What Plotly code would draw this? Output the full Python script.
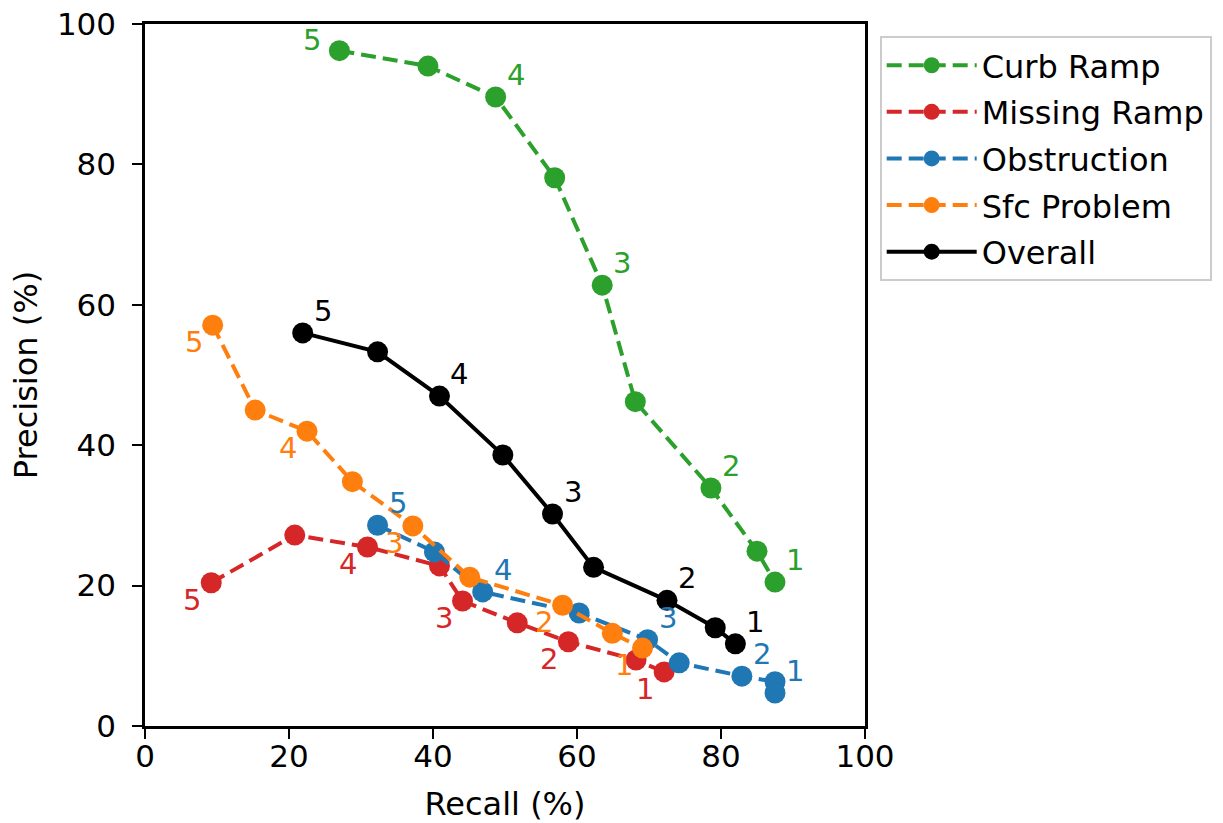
import plotly.graph_objects as go

# ---- data ----
series_names = ["Curb Ramp", "Missing Ramp", "Obstruction", "Sfc Problem", "Overall"]

recall_curb = [27.0, 39.3, 48.7, 56.9, 63.5, 68.1, 78.6, 85.0, 87.5]
prec_curb = [96.2, 94.0, 89.6, 78.1, 62.8, 46.2, 33.9, 24.9, 20.5]

recall_missing = [9.2, 20.8, 30.9, 40.9, 44.1, 51.7, 58.8, 68.2, 72.1]
prec_missing = [20.4, 27.2, 25.5, 22.8, 17.8, 14.7, 12.0, 9.4, 7.7]

recall_obs = [32.3, 40.2, 46.9, 60.3, 69.8, 74.2, 82.9, 87.5, 87.5]
prec_obs = [28.6, 24.8, 19.1, 16.1, 12.3, 9.0, 7.1, 6.3, 4.7]

recall_sfc = [9.4, 15.3, 22.5, 28.8, 37.2, 45.1, 58.0, 64.9, 69.1]
prec_sfc = [57.1, 45.0, 42.0, 34.8, 28.5, 21.2, 17.2, 13.2, 11.1]

recall_overall = [21.9, 32.3, 40.9, 49.7, 56.6, 62.3, 72.5, 79.2, 82.0]
prec_overall = [56.0, 53.3, 47.0, 38.6, 30.2, 22.6, 17.9, 14.0, 11.7]

point_labels = ["5", "", "4", "", "3", "", "2", "", "1"]

x_ticks = [0, 20, 40, 60, 80, 100]
y_ticks = [0, 20, 40, 60, 80, 100]

# ---- styles ----
colors = ["#2ca02c", "#d62728", "#1f77b4", "#ff7f0e", "#000000"]
dashes = ["15px,7px", "15px,7px", "15px,7px", "15px,7px", "solid"]
UR = (20, 22)
LL = (-19, -17)
label_offsets = [UR, LL, UR, LL, UR]

xs = [recall_curb, recall_missing, recall_obs, recall_sfc, recall_overall]
ys = [prec_curb, prec_missing, prec_obs, prec_sfc, prec_overall]

FONT = "DejaVu Sans"

fig = go.Figure()
annotations = []
for i, name in enumerate(series_names):
    fig.add_trace(go.Scatter(
        x=xs[i], y=ys[i], name=name, mode="lines+markers",
        line=dict(color=colors[i], width=4, dash=dashes[i]),
        marker=dict(color=colors[i], size=21),
        legendgroup=name,
    ))
    for j, lab in enumerate(point_labels):
        if not lab:
            continue
        dx, dy = label_offsets[i]
        if i == 0 and lab == "5":
            dx, dy = (-27, 11)
        annotations.append(dict(
            x=xs[i][j], y=ys[i][j], text=lab, showarrow=False,
            xshift=dx, yshift=dy,
            font=dict(family=FONT, size=29, color=colors[i]),
        ))

axis_common = dict(
    range=[0, 100], showgrid=False, zeroline=False, automargin=False,
    showline=True, linecolor="black", linewidth=2.5, mirror=True,
    ticks="outside", ticklen=10, tickwidth=2, tickcolor="black",
    tickfont=dict(family=FONT, size=31, color="black"),
    ticklabeloverflow="allow",
)

fig.update_layout(
    width=1223, height=823,
    margin=dict(l=145, r=357, t=24, b=97),
    paper_bgcolor="white", plot_bgcolor="white",
    xaxis=dict(**axis_common, tickvals=x_ticks, ticklabelstandoff=-9,
               title=dict(text="Recall (%)", font=dict(family=FONT, size=32, color="black"), standoff=23)),
    yaxis=dict(**axis_common, tickvals=y_ticks, ticklabelstandoff=10,
               title=dict(text="Precision (%)", font=dict(family=FONT, size=32, color="black"), standoff=10)),
    legend=dict(
        x=1.019, y=0.983, xanchor="left", yanchor="top",
        font=dict(family=FONT, size=32, color="black"),
        bordercolor="#cccccc", borderwidth=2, bgcolor="white",
        tracegroupgap=2, itemwidth=90,
    ),
    annotations=annotations,
    showlegend=True,
)

# remove the default 8px page margin so the figure fills the window exactly
fig.write_html(
    "out.html",
    config={"displayModeBar": False},
    post_script="document.body.style.margin='0';document.body.style.overflow='hidden';",
)
